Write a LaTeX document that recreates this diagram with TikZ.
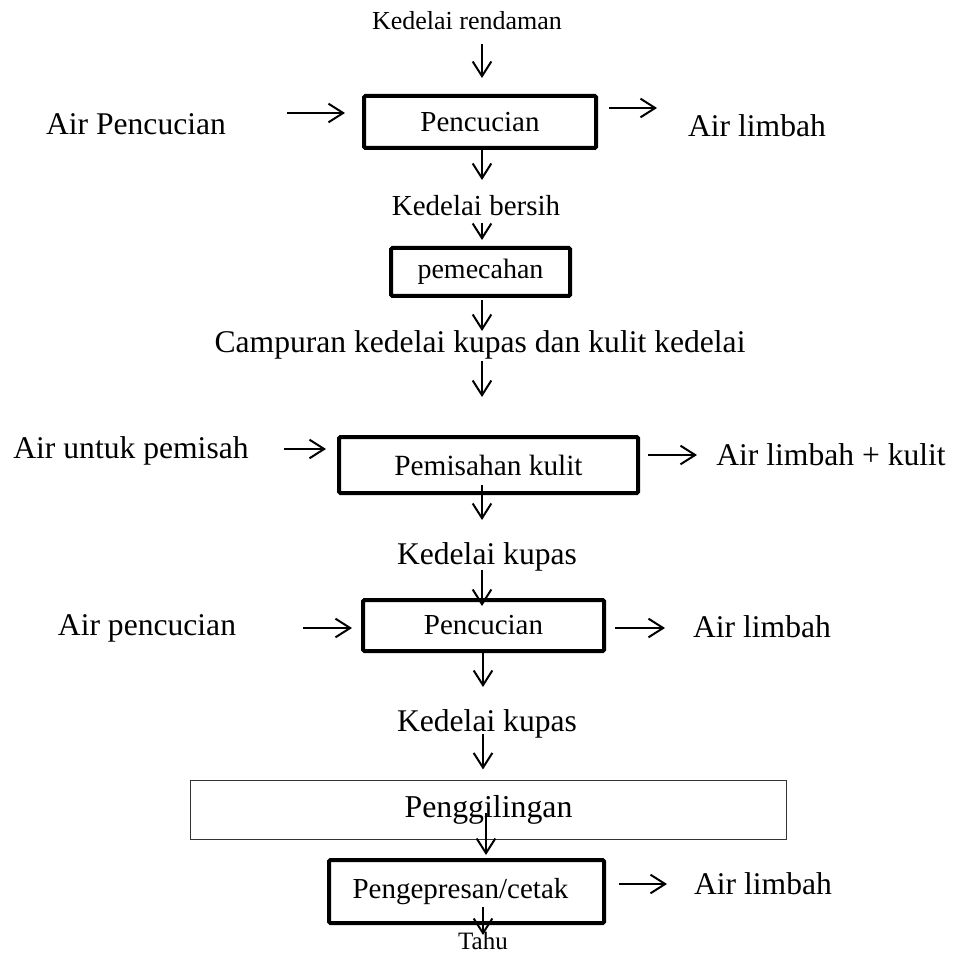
\documentclass[tikz,border=0pt]{standalone}
\usepackage{fontspec}
\setmainfont{Liberation Serif}
\usetikzlibrary{arrows.meta}
\tikzstyle{flowchart} = [x = 0.75pt, y = -0.75pt]
\tikzstyle{processBox} = [draw, line width = 3pt, rounded corners = 1pt, inner sep = 0pt, font = \fontsize{21.75}{26}\selectfont]
\tikzstyle{thinBox} = [draw = black!80, line width = .8pt, inner sep = 0pt, font = \fontsize{23.85}{28}\selectfont]
\tikzstyle{flowArrow} = [-{Straight Barb[length = 11pt, width = 14pt]}, line width = 1.5pt]
\tikzstyle{bigLabel} = [anchor = base, inner sep = 0pt, font = \fontsize{23.7}{28}\selectfont]
\tikzstyle{smallLabel} = [anchor = base, inner sep = 0pt, font = \fontsize{19.5}{23}\selectfont]
\newcommand{\boxFont}[1]{\fontsize{#1}{#1}\selectfont}

\begin{document}
\begin{tikzpicture}[flowchart]
  \useasboundingbox (0,0) rectangle (963,955);
  \coordinate (spine) at (482,0);

  % washing of soaked soybeans
  \node [smallLabel] (soaked) at (467,30) {Kedelai rendaman};
  \node [processBox, minimum width = 174pt, minimum height = 39pt] (washOne) at (480,122) {Pencucian};
  \node [bigLabel] (waterOne) at (136,135) {Air Pencucian};
  \node [bigLabel] (wasteOne) at (757,137) {Air limbah};
  \draw [flowArrow] (washOne.north -| spine) ++(0,-50) -- ++(0,34);
  \draw [flowArrow] (washOne.west) ++(-75,-9) -- ++(58,0);
  \draw [flowArrow] (washOne.east) ++(11,-14) -- ++(48,0);
  \draw [flowArrow] (washOne.south -| spine) ++(0,-3) -- ++(0,33);

  % crushing
  \node [bigLabel, font = \boxFont{21.75}] (cleanSoy) at (476,216) {Kedelai bersih};
  \node [processBox, minimum width = 134.25pt, minimum height = 36pt, font = \boxFont{21}] (crush) at (480.5,272) {pemecahan};
  \node [bigLabel] (mixture) at (480,353) {Campuran kedelai kupas dan kulit kedelai};
  \draw [flowArrow] (crush.north -| spine) ++(0,-23) -- ++(0,17);
  \draw [flowArrow] (crush.south -| spine) ++(0,2) -- ++(0,31);

  % hull separation
  \node [processBox, minimum width = 224.25pt, minimum height = 42pt, font = \boxFont{22}] (hullSep) at (488.5,465) {Pemisahan kulit};
  \node [bigLabel] (waterTwo) at (131,458) {Air untuk pemisah};
  \node [bigLabel] (wasteTwo) at (831,465) {Air limbah + kulit};
  \draw [flowArrow] (hullSep.north -| spine) ++(0,-74) -- ++(0,36);
  \draw [flowArrow] (hullSep.west) ++(-53,-16) -- ++(42,0);
  \draw [flowArrow] (hullSep.east) ++(8,-10) -- ++(49,0);
  \draw [flowArrow] (hullSep.south -| spine) ++(0,-10) -- ++(0,35);

  % second washing
  \node [bigLabel] (peeledOne) at (487,564) {Kedelai kupas};
  \node [processBox, minimum width = 180.75pt, minimum height = 38.25pt] (washTwo) at (483.5,625.5) {Pencucian};
  \node [bigLabel] (waterThree) at (147,635) {Air pencucian};
  \node [bigLabel] (wasteThree) at (762,637) {Air limbah};
  \draw [flowArrow] (washTwo.north -| spine) ++(0,-28) -- ++(0,36);
  \draw [flowArrow] (washTwo.west) ++(-58,2.5) -- ++(49,0);
  \draw [flowArrow] (washTwo.east) ++(9,2.5) -- ++(50,0);
  \draw [flowArrow] (washTwo.south -| spine) ++(1,-3) -- ++(0,37);

  % grinding and pressing
  \node [bigLabel] (peeledTwo) at (487,731) {Kedelai kupas};
  \node [thinBox, minimum width = 447pt, minimum height = 44.25pt] (grind) at (488.5,810) {Penggilingan};
  \node [processBox, minimum width = 206.25pt, minimum height = 47.25pt] (press) at (466.5,891.5) {Pengepresan/cetak\hspace*{9pt}};
  \node [bigLabel] (wasteFour) at (763,894) {Air limbah};
  \node [smallLabel, font = \boxFont{18.75}] (tofu) at (483,949) {Tahu};
  \draw [flowArrow] (grind.north -| spine) ++(1,-45.5) -- ++(0,35);
  \draw [flowArrow] (press.north -| spine) ++(4,-45) -- ++(0,42);
  \draw [flowArrow] (press.east) ++(13,-7.5) -- ++(48,0);
  \draw [flowArrow] (press.south -| spine) ++(1,-18) -- ++(0,28);
\end{tikzpicture}
\end{document}
